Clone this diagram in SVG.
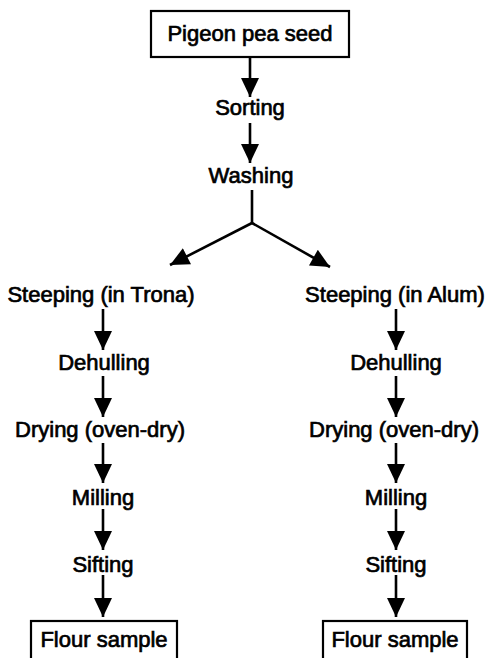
<svg xmlns="http://www.w3.org/2000/svg" width="488" height="658" viewBox="0 0 488 658">
<defs>
<style>
.t{font-family:"Liberation Sans",Arial,sans-serif;font-size:22px;fill:#000;text-anchor:middle;stroke:#000;stroke-width:0.7}
.box{fill:#fff;stroke:#000;stroke-width:2.2}
.c{stroke:#000;stroke-width:2.6;fill:none}
</style>
<marker id="ah" markerUnits="userSpaceOnUse" markerWidth="20" markerHeight="18" refX="18" refY="8.5" orient="auto" viewBox="0 0 18 17">
<path d="M0,0 L18,8.5 L0,17 Z" fill="#000"/>
</marker>
</defs>
<rect width="488" height="658" fill="#fff"/>
<g id="connectors">
<line class="c" x1="250" y1="57" x2="250" y2="97" marker-end="url(#ah)"/>
<line class="c" x1="250" y1="123" x2="250" y2="163" marker-end="url(#ah)"/>
<line class="c" x1="252" y1="190" x2="252" y2="223"/>
<line class="c" x1="252" y1="223" x2="170" y2="265" marker-end="url(#ah)"/>
<line class="c" x1="252" y1="223" x2="330" y2="267" marker-end="url(#ah)"/>
<line class="c" x1="103" y1="309" x2="103" y2="350" marker-end="url(#ah)"/>
<line class="c" x1="103" y1="376" x2="103" y2="417" marker-end="url(#ah)"/>
<line class="c" x1="103" y1="443" x2="103" y2="483" marker-end="url(#ah)"/>
<line class="c" x1="103" y1="509" x2="103" y2="550" marker-end="url(#ah)"/>
<line class="c" x1="103" y1="575" x2="103" y2="617" marker-end="url(#ah)"/>
<line class="c" x1="396" y1="309" x2="396" y2="350" marker-end="url(#ah)"/>
<line class="c" x1="396" y1="376" x2="396" y2="417" marker-end="url(#ah)"/>
<line class="c" x1="396" y1="443" x2="396" y2="483" marker-end="url(#ah)"/>
<line class="c" x1="396" y1="509" x2="396" y2="550" marker-end="url(#ah)"/>
<line class="c" x1="396" y1="575" x2="396" y2="617" marker-end="url(#ah)"/>
</g>
<g id="seed"><rect class="box" x="151" y="11" width="198" height="46"/><text class="t" x="250" y="41">Pigeon pea seed</text></g>
<g id="sorting"><text class="t" x="250" y="115">Sorting</text></g>
<g id="washing"><text class="t" x="251" y="183">Washing</text></g>
<g id="steepL"><text class="t" x="101" y="302">Steeping (in Trona)</text></g>
<g id="dehullL"><text class="t" x="104" y="370">Dehulling</text></g>
<g id="dryL"><text class="t" x="100" y="437">Drying (oven-dry)</text></g>
<g id="millL"><text class="t" x="103" y="505">Milling</text></g>
<g id="siftL"><text class="t" x="103" y="572">Sifting</text></g>
<g id="flourL"><rect class="box" x="31" y="621" width="146" height="50"/><text class="t" x="104" y="647">Flour sample</text></g>
<g id="steepR"><text class="t" x="395" y="302">Steeping (in Alum)</text></g>
<g id="dehullR"><text class="t" x="396" y="370">Dehulling</text></g>
<g id="dryR"><text class="t" x="394" y="437">Drying (oven-dry)</text></g>
<g id="millR"><text class="t" x="396" y="505">Milling</text></g>
<g id="siftR"><text class="t" x="396" y="572">Sifting</text></g>
<g id="flourR"><rect class="box" x="323" y="621" width="144" height="50"/><text class="t" x="395" y="647">Flour sample</text></g>
</svg>
